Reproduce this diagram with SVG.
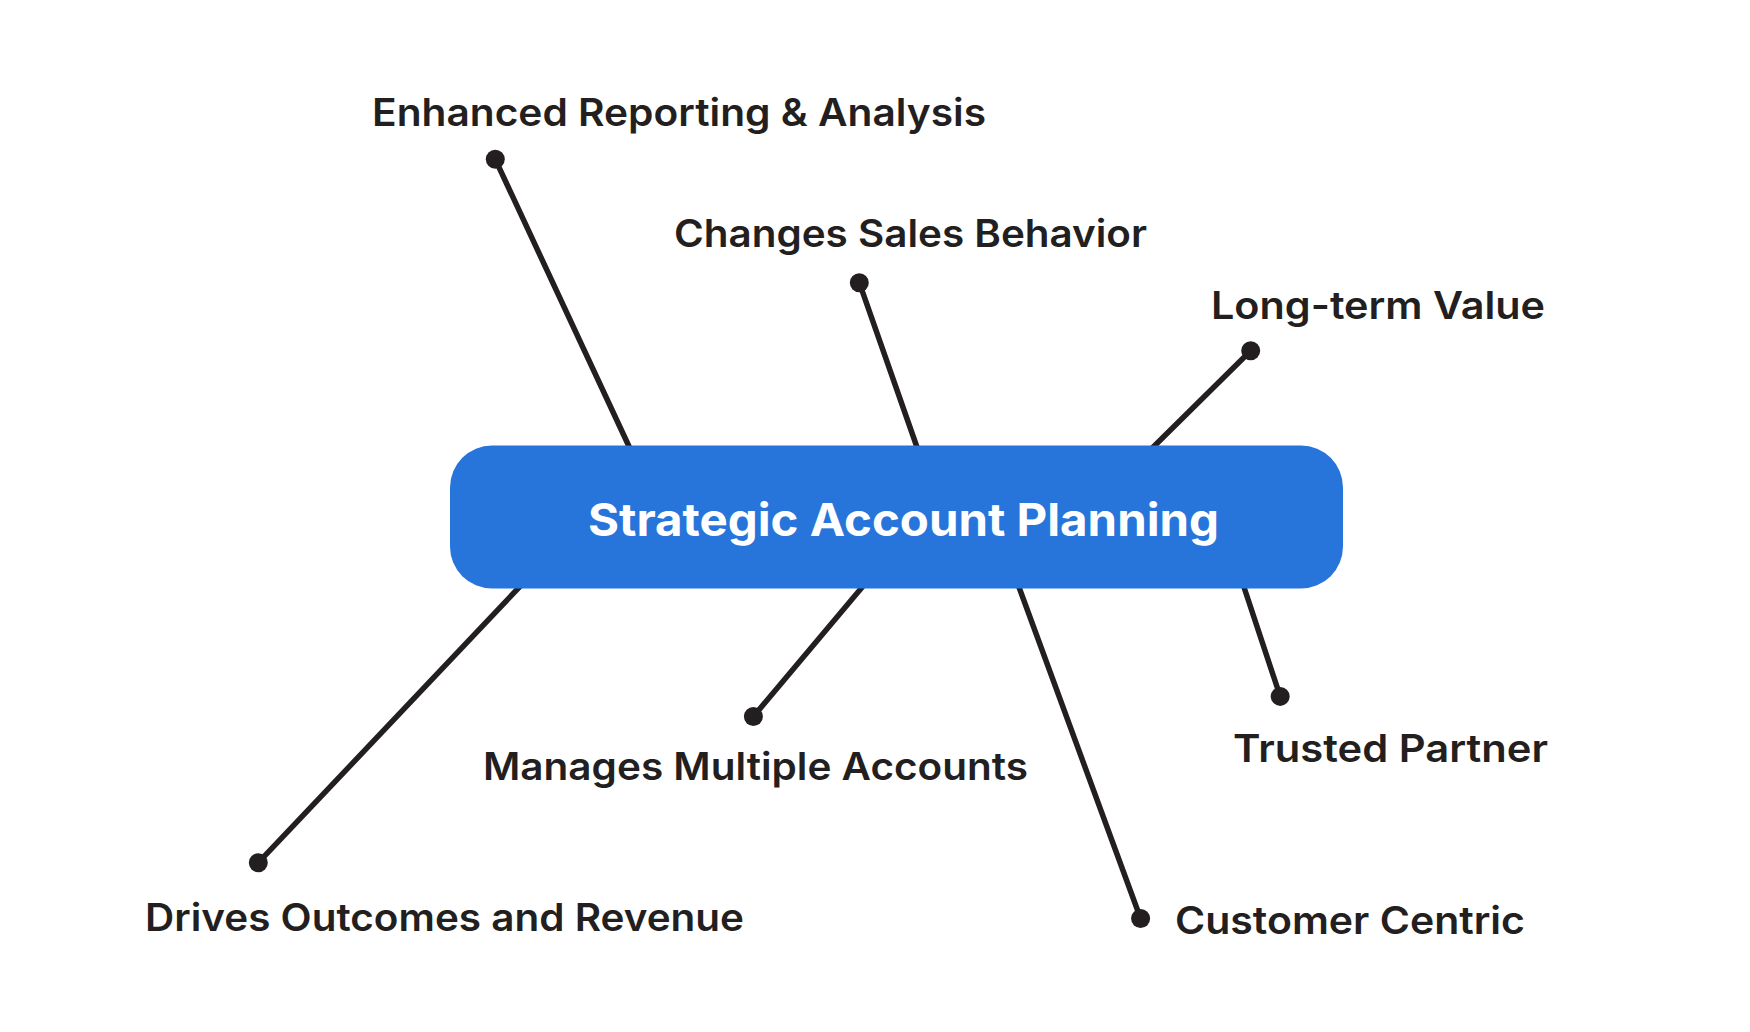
<svg xmlns="http://www.w3.org/2000/svg" width="1750" height="1032" viewBox="0 0 1750 1032">
<style>
.conn{stroke:#231F20;stroke-width:5.5;stroke-linecap:round;fill:none}
.dot{fill:#231F20}
.lbl{font-family:Inter,"Noto Sans","Liberation Sans",sans-serif;font-weight:600;font-size:38px;fill:#231F20}
.title{font-family:Inter,"Noto Sans","Liberation Sans",sans-serif;font-weight:700;font-size:45px;fill:#FFFFFF}
</style>
<rect width="1750" height="1032" fill="#FFFFFF"/>
<g id="connectors">
<line class="conn" x1="495.3" y1="159.3" x2="640" y2="470"/>
<line class="conn" x1="859.3" y1="282.7" x2="925" y2="470"/>
<line class="conn" x1="1250.7" y1="350.7" x2="1130" y2="470"/>
<line class="conn" x1="258.3" y1="862.7" x2="545" y2="560"/>
<line class="conn" x1="753.4" y1="716.5" x2="885" y2="560"/>
<line class="conn" x1="1140.6" y1="918.5" x2="1009" y2="560"/>
<line class="conn" x1="1280.2" y1="696.4" x2="1235" y2="560"/>
<circle class="dot" cx="495.3" cy="159.3" r="9.5"/>
<circle class="dot" cx="859.3" cy="282.7" r="9.5"/>
<circle class="dot" cx="1250.7" cy="350.7" r="9.5"/>
<circle class="dot" cx="258.3" cy="862.7" r="9.5"/>
<circle class="dot" cx="753.4" cy="716.5" r="9.5"/>
<circle class="dot" cx="1140.6" cy="918.5" r="9.5"/>
<circle class="dot" cx="1280.2" cy="696.4" r="9.5"/>
</g>
<g id="center">
<rect x="450" y="445.5" width="893" height="143" rx="42" ry="42" fill="#2775DB"/>
<text class="title" x="588" y="536" textLength="631" lengthAdjust="spacingAndGlyphs">Strategic Account Planning</text>
</g>
<g id="n-enhanced"><text class="lbl" x="372" y="125.5" textLength="614" lengthAdjust="spacingAndGlyphs">Enhanced Reporting &amp; Analysis</text></g>
<g id="n-changes"><text class="lbl" x="674" y="246.5" textLength="473" lengthAdjust="spacingAndGlyphs">Changes Sales Behavior</text></g>
<g id="n-longterm"><text class="lbl" x="1211" y="319" textLength="334" lengthAdjust="spacingAndGlyphs">Long-term Value</text></g>
<g id="n-manages"><text class="lbl" x="483" y="779.5" textLength="545" lengthAdjust="spacingAndGlyphs">Manages Multiple Accounts</text></g>
<g id="n-drives"><text class="lbl" x="145" y="930.5" textLength="599" lengthAdjust="spacingAndGlyphs">Drives Outcomes and Revenue</text></g>
<g id="n-trusted"><text class="lbl" x="1233" y="761.5" textLength="315" lengthAdjust="spacingAndGlyphs">Trusted Partner</text></g>
<g id="n-customer"><text class="lbl" x="1175" y="933.5" textLength="350" lengthAdjust="spacingAndGlyphs">Customer Centric</text></g>
</svg>
